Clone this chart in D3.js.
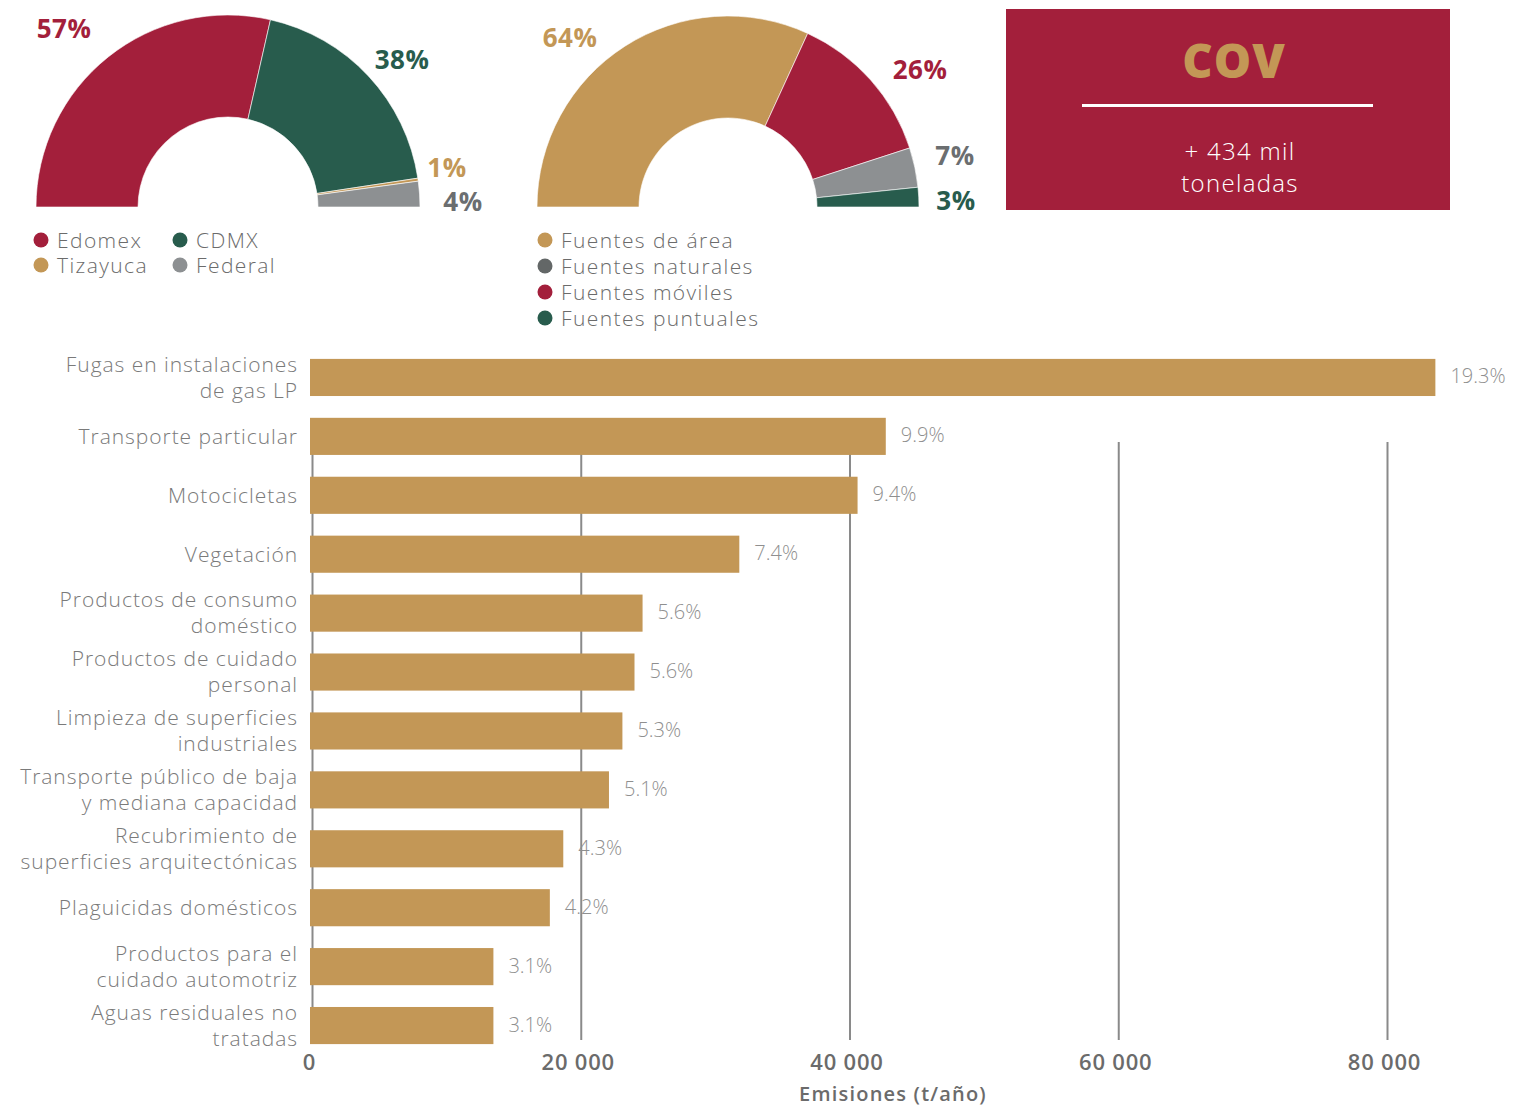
<!DOCTYPE html>
<html>
<head>
<meta charset="utf-8">
<script src="https://cdn.jsdelivr.net/npm/d3@7"></script>
<style>
  html, body { margin: 0; padding: 0; background: #fff; }
  svg { display: block; }
  text { font-family: "Open Sans", Lato, sans-serif; }
</style>
</head>
<body>
<svg id="chart" width="1517" height="1106"></svg>
<script>
// ---------- DATA ----------
const entityNames = ["Edomex", "CDMX", "Tizayuca", "Federal"];
const entityValues = [57.1, 38.1, 0.5, 4.3];
const entityColors = ["#a31f3b", "#285c4d", "#c39756", "#8d9092"];
const entityLabelColors = ["#a31f3b", "#285c4d", "#c39756", "#6b6e70"];

const sourceNames = ["Fuentes de área", "Fuentes móviles", "Fuentes naturales", "Fuentes puntuales"];
const sourceValues = [63.7, 26.3, 6.7, 3.3];
const sourceColors = ["#c39756", "#a31f3b", "#8d9092", "#285c4d"];
const sourceLabelColors = ["#c39756", "#a31f3b", "#6b6e70", "#285c4d"];
const sourceLegendOrder = ["Fuentes de área", "Fuentes naturales", "Fuentes móviles", "Fuentes puntuales"];
const sourceLegendColors = ["#c39756", "#636767", "#a31f3b", "#285c4d"];

const pollutant = "COV";
const totalText = ["+ 434 mil", "toneladas"];

const categories = [
  "Fugas en instalaciones\nde gas LP",
  "Transporte particular",
  "Motocicletas",
  "Vegetación",
  "Productos de consumo\ndoméstico",
  "Productos de cuidado\npersonal",
  "Limpieza de superficies\nindustriales",
  "Transporte público de baja\ny mediana capacidad",
  "Recubrimiento de\nsuperficies arquitectónicas",
  "Plaguicidas domésticos",
  "Productos para el\ncuidado automotriz",
  "Aguas residuales no\ntratadas"
];
const emissions = [83600, 42700, 40600, 31800, 24600, 24000, 23100, 22100, 18700, 17700, 13500, 13500];
const shares = ["19.3%", "9.9%", "9.4%", "7.4%", "5.6%", "5.6%", "5.3%", "5.1%", "4.3%", "4.2%", "3.1%", "3.1%"];
const xTicks = [0, 20000, 40000, 60000, 80000];
const xTitle = "Emisiones (t/año)";

// ---------- DRAW ----------
const svg = d3.select("#chart");
const LIGHT = 300;

function halfDonut(g, values, colors, cx, cy, rIn, rOut) {
  const pie = d3.pie().sort(null).startAngle(-Math.PI / 2).endAngle(Math.PI / 2);
  const arc = d3.arc().innerRadius(rIn).outerRadius(rOut);
  const grp = g.append("g").attr("transform", `translate(${cx},${cy})`);
  grp.selectAll("path").data(pie(values)).join("path")
    .attr("d", arc)
    .attr("fill", (d, i) => colors[i])
    .attr("stroke", "#fff").attr("stroke-width", 0.6);
}

// donut 1
halfDonut(svg, entityValues, entityColors, 228, 207, 90, 192);
const d1Labels = [[64, 29], [402, 60], [447, 168], [463, 202]];
svg.append("g").selectAll("text").data(entityValues).join("text")
  .attr("x", (d, i) => d1Labels[i][0]).attr("y", (d, i) => d1Labels[i][1])
  .attr("dy", "0.35em").attr("text-anchor", "middle")
  .attr("font-size", 26).attr("font-weight", 700).attr("letter-spacing", 0.5)
  .attr("fill", (d, i) => entityLabelColors[i])
  .text(d => Math.round(d) + "%");

// legend 1
const leg1 = svg.append("g");
const leg1Pos = [[41, 240], [180, 240], [41, 265], [180, 265]];
entityNames.forEach((n, i) => {
  leg1.append("circle").attr("cx", leg1Pos[i][0]).attr("cy", leg1Pos[i][1]).attr("r", 7.5).attr("fill", entityColors[i]);
  leg1.append("text").attr("x", leg1Pos[i][0] + 16).attr("y", leg1Pos[i][1] + 1).attr("dy", "0.35em")
    .attr("font-size", 21).attr("font-weight", LIGHT).attr("letter-spacing", 1.4).attr("fill", "#6b6b6b").text(n);
});

// donut 2
halfDonut(svg, sourceValues, sourceColors, 728, 207, 89, 191);
const d2Labels = [[570, 38], [920, 70], [955, 156], [956, 201]];
svg.append("g").selectAll("text").data(sourceValues).join("text")
  .attr("x", (d, i) => d2Labels[i][0]).attr("y", (d, i) => d2Labels[i][1])
  .attr("dy", "0.35em").attr("text-anchor", "middle")
  .attr("font-size", 26).attr("font-weight", 700).attr("letter-spacing", 0.5)
  .attr("fill", (d, i) => sourceLabelColors[i])
  .text(d => Math.round(d) + "%");

// legend 2
const leg2 = svg.append("g");
sourceLegendOrder.forEach((n, i) => {
  const y = 240 + i * 26;
  leg2.append("circle").attr("cx", 545).attr("cy", y).attr("r", 7.5).attr("fill", sourceLegendColors[i]);
  leg2.append("text").attr("x", 561).attr("y", y + 1).attr("dy", "0.35em")
    .attr("font-size", 21).attr("font-weight", LIGHT).attr("letter-spacing", 1.4).attr("fill", "#6b6b6b").text(n);
});

// COV box
const box = svg.append("g");
box.append("rect").attr("x", 1006).attr("y", 9).attr("width", 444).attr("height", 201).attr("fill", "#a31f3b");
box.append("text").attr("x", 1234).attr("y", 78).attr("text-anchor", "middle")
  .attr("font-size", 47).attr("font-weight", 800).attr("letter-spacing", 1).attr("fill", "#c39756").text(pollutant);
box.append("line").attr("x1", 1082).attr("x2", 1373).attr("y1", 105.5).attr("y2", 105.5)
  .attr("stroke", "#fff").attr("stroke-width", 3);
totalText.forEach((t, i) => {
  box.append("text").attr("x", 1240).attr("y", 152 + i * 32).attr("dy", "0.35em").attr("text-anchor", "middle")
    .attr("font-size", 24).attr("font-weight", LIGHT).attr("letter-spacing", 1.3).attr("fill", "#fff").text(t);
});

// bar chart
const x = d3.scaleLinear().domain([0, 80000]).range([312, 1387]);
const y = d3.scaleBand().domain(categories).range([348, 1055]).paddingInner(0.37).paddingOuter(0.185);

const gridTop = 442, gridBottom = 1040;
const axis = svg.append("g").attr("transform", `translate(0,${gridBottom})`)
  .call(d3.axisBottom(x).tickValues(xTicks).tickSize(-(gridBottom - gridTop)).tickPadding(14)
    .tickFormat(d => d3.format(",")(d).replace(/,/g, " ")));
axis.select(".domain").remove();
axis.selectAll(".tick line").attr("stroke", "#8a8a8a").attr("stroke-width", 2);
axis.selectAll(".tick text").attr("font-size", 22).attr("font-weight", 600).attr("fill", "#6b6b6b")
  .attr("font-family", "'Open Sans', sans-serif").attr("letter-spacing", 0.8).attr("dx", -3);

svg.append("g").selectAll("rect").data(emissions).join("rect")
  .attr("x", 310).attr("y", (d, i) => y(categories[i]))
  .attr("width", d => x(d) - 310).attr("height", y.bandwidth())
  .attr("fill", "#c39756");

svg.append("g").selectAll("text").data(emissions).join("text")
  .attr("x", d => x(d) + 15).attr("y", (d, i) => y(categories[i]) + y.bandwidth() / 2 - 1)
  .attr("dy", "0.35em").attr("font-size", 20).attr("font-weight", LIGHT).attr("fill", "#8f8f8f")
  .text((d, i) => shares[i]);

const catG = svg.append("g");
categories.forEach((c, i) => {
  const lines = c.split("\n");
  const cy = y(c) + y.bandwidth() / 2;
  lines.forEach((ln, j) => {
    catG.append("text").attr("x", 298)
      .attr("y", cy + (j - (lines.length - 1) / 2) * 26)
      .attr("dy", "0.35em").attr("text-anchor", "end")
      .attr("font-size", 21).attr("font-weight", LIGHT).attr("letter-spacing", 0.95).attr("fill", "#7a7a7a").text(ln);
  });
});

svg.append("text").attr("x", 893).attr("y", 1094).attr("dy", "0.35em").attr("text-anchor", "middle")
  .attr("font-size", 20).attr("font-weight", 600).attr("letter-spacing", 1.2).attr("fill", "#6b6b6b").text(xTitle);
</script>
</body>
</html>
